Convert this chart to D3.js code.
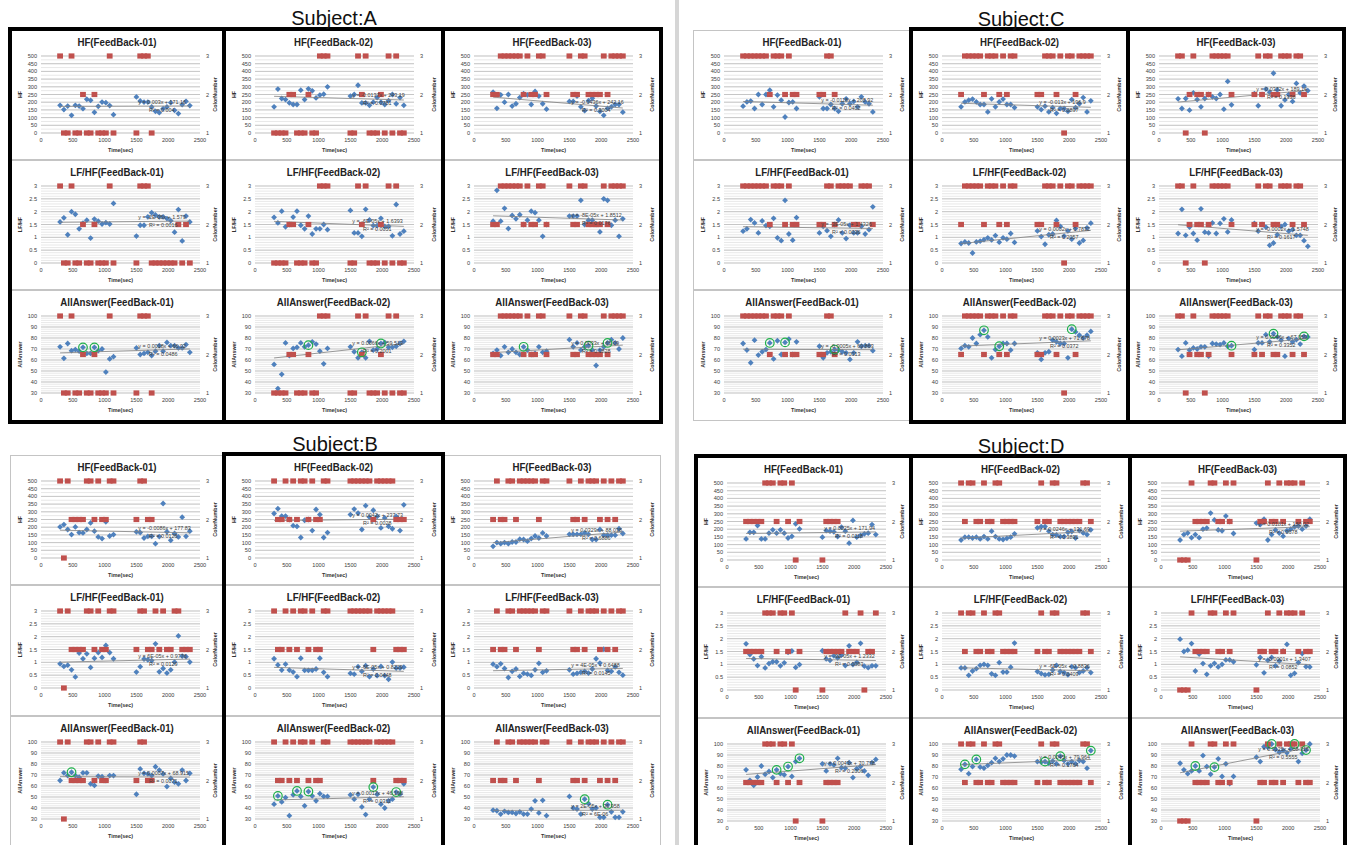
<!DOCTYPE html>
<html>
<head>
<meta charset="utf-8">
<script src="https://cdn.jsdelivr.net/npm/d3@7"></script>
<style>
  body { margin: 0; background: #fff; }
  svg { display: block; }
  text { font-family: "Liberation Sans", Arial, sans-serif; }
</style>
</head>
<body>
<svg id="chart" width="1348" height="845"></svg>
<script>
// ---- shared axes ----
const times = [300,360,420,480,540,600,660,720,780,840,900,960,1020,1080,1140,
  1500,1560,1620,1680,1740,1800,1860,1920,1980,2040,2100,2160,2220,2280,2340];
const xTicks = [0,500,1000,1500,2000,2500];
const hfTicks = [0,50,100,150,200,250,300,350,400,450,500];
const lfTicks = [0,0.5,1,1.5,2,2.5,3];
const aaTicks = [30,40,50,60,70,80,90,100];
const colorTicks = [1,2,3];
const _ = null;

// ---- Subject A ----
const hfA1 = [180,152,175,115,180,175,158,219,212,134,173,201,197,178,119, 234,208,201,201,169,141,132,158,169,197,147,126,184,206,178];
const hfA2 = [170,285,224,217,196,185,185,278,217,287,274,228,246,252,300, 240,250,310,195,195,180,200,230,200,185,210,250,190,230,180];
const hfA3 = [265,160,248,200,250,175,190,230,255,248,185,270,240,190,155, 205,205,240,170,145,210,225,175,140,115,160,170,185,185,135];
const lfA1 = [1.6,1.76,1.1,2.0,1.9,1.33,1.55,1.67,0.97,1.71,1.63,1.52,1.57,1.52,2.32, 1.05,1.47,1.47,1.8,1.96,1.87,1.8,1.8,1.73,1.65,1.2,2.08,0.86,1.83,1.6];
const lfA2 = [1.78,1.56,2.02,1.41,1.5,1.79,2.02,1.47,1.33,1.83,1.13,1.33,1.33,1.5,1.3, 2.05,1.17,1.17,1.04,2.09,1.68,1.46,1.46,1.74,1.43,1.43,1.06,2.28,1.13,1.24];
const lfA3 = [1.63,2.83,1.63,2.13,1.34,1.85,1.72,1.88,1.5,1.67,2.02,1.96,1.67,1.04,1.5, 1.83,1.83,1.83,2.44,1.5,1.67,1.67,1.5,1.21,2.5,2.44,1.47,1.67,1.04,1.72];
const aaA1 = [72,61.5,75,68.5,69.5,68,71.5,66,66,71.5,68.5,70,49,61,63, 71,65,66,67,64,68,73,68,76,73,73,71,71,74,67];
const aaA2 = [56,34,47,75.5,64,70.5,71.5,75.5,72,73.5,76.5,74.5,68,56.5,70.5, 72,67.5,62,67,62,77,69,70,75,76,71.5,71.5,72.5,75,77];
const aaA3 = [66,69,64,72,67,70,67,65,72,69,65,66,72,67,68, 78.5,72,75.5,69,72,73,69,55,69,72,75.5,78.5,75.5,70,80];
const colorA1 = [3,1,1,3,1,1,2,1,1,2,1,1,1,3,1, 1,3,3,3,1,_,_,_,_,_,_,_,_,_,_];
const colorA1lf = [3,1,1,3,1,1,2,1,1,2,1,1,1,3,1, 1,3,3,3,1,1,1,1,1,1,1,2,1,2,1];
const colorA2 = [1,1,1,1,2,2,1,1,1,2,1,1,3,3,3, 1,1,3,2,3,1,1,1,2,1,3,1,3,1,1];
const colorA3 = [2,2,3,3,3,3,3,3,2,3,2,2,3,3,2, 3,2,2,3,3,2,2,2,2,3,2,3,3,3,3];
const eqA = [
  ["y = 0.003x + 171.16","R² = 0.004"],["y = -0.0137x + 243.19","R² = 0.0781"],["y = -0.0436x + 242.16","R² = 0.3004"],
  ["y = -2E-05x + 1.579","R² = 0.0016"],["y = -6E-05x + 1.6393","R² = 0.0051"],["y = -8E-05x + 1.8512","R² = 0.0176"],
  ["y = 0.0018x + 66.02","R² = 0.0486"],["y = 0.0066x + 59.513","R² = 0.2001"],["y = 0.0033x + 65.09","R² = 0.1828"]];
const circlesA = [[6,9],[9,18,23],[8,20,25]];

// ---- Subject B ----
const hfB1 = [202,217,185,152,202,165,163,185,228,174,137,126,235,143,152, 170,165,130,141,141,93,139,354,170,115,159,137,265,141,174];
const hfB2 = [289,320,272,272,250,210,205,133,245,250,178,315,282,133,165, 282,318,292,185,340,265,310,270,195,260,205,190,270,178,345];
const hfB3 = [76,100,93,100,93,104,104,122,120,109,126,143,130,163,143, 154,154,154,154,163,154,120,120,185,148,148,148,148,190,159];
const lfB1 = [0.94,0.84,0.89,0.71,0.43,1.36,1.14,1.33,0.8,1.16,1.38,1.19,1.66,1.38,1.14, 0.62,0.83,1.13,1.1,1.07,1.72,0.63,0.76,0.58,0.71,1.01,2.03,1.24,1.22,1.01];
const lfB2 = [1.14,0.9,0.7,0.93,0.7,0.62,0.44,1.16,0.69,0.69,0.69,0.74,1.16,0.61,0.44, 0.57,0.54,0.83,0.65,0.87,0.44,0.74,0.48,0.84,0.48,0.34,1.01,0.78,0.78,0.81];
const lfB3 = [0.93,0.83,0.94,0.76,0.41,0.65,0.74,0.45,0.57,0.54,0.49,0.71,0.96,0.61,0.67, 0.71,0.54,0.57,0.61,0.65,0.58,0.74,1.14,0.97,1.51,0.69,0.65,0.82,0.61,0.5];
const aaB1 = [65,72,69.5,72.5,69.5,68,72,72,62,60.5,69,68.5,65,69.5,69.5, 52.5,75.5,71.5,71,69.5,77.5,74.5,71,59.5,67,63.5,62,74.5,65,71.5];
const aaB2 = [43.5,51,45.5,49.5,33,52,55.5,50.5,42,55,51,46.5,53,50.5,50.5, 52,48,52.5,41,34,48,59,52.5,43.5,40,46.5,48,54.5,52.5,62];
const aaB3 = [38,37.5,34.5,37,36,36,35,36.5,34.5,34.5,39,46.5,35.5,47,33, 50.5,40,39,34.5,48,44,39,40,31.5,31.5,43,36.5,31.5,31.5,36.5];
const colorB1 = [3,1,3,2,2,2,2,3,3,2,3,2,2,3,3, 2,3,3,2,2,_,_,_,_,_,_,_,_,_,_];
const colorB1lf = [3,1,3,2,2,2,2,3,3,2,3,2,2,3,3, 2,3,3,2,2,3,2,3,2,2,3,3,2,2,2];
const colorB2 = [3,2,2,3,2,3,2,3,3,2,3,2,2,3,3, 3,3,3,3,3,3,2,3,3,3,3,3,2,2,2];
const colorB3 = [2,3,2,2,3,3,2,3,3,3,3,3,2,3,3, 3,2,2,3,2,3,3,3,2,3,2,3,2,3,3];
const eqB = [
  ["y = -0.0086x + 177.83","R² = 0.0128"],["y = 0.0042x + 237.73","R² = 0.0028"],["y = 0.0329x + 88.038","R² = 0.6886"],
  ["y = 6E-05x + 0.9776","R² = 0.0129"],["y = -6E-05x + 0.8229","R² = 0.0448"],["y = 4E-05x + 0.6488","R² = 0.0145"],
  ["y = 0.0007x + 68.915","R² = 0.0071"],["y = 0.0017x + 46.168","R² = 0.0311"],["y = 2E-05x + 36.958","R² = 6E-06"]];
const circlesB = [[3],[1,6,9,21,27],[19,25]];

// ---- Subject C ----
const hfC1 = [174,202,207,159,250,185,250,278,170,246,213,104,198,202,159, 235,159,159,185,159,141,190,222,190,205,170,235,202,190,137];
const hfC2 = [170,202,213,220,202,185,185,137,222,170,202,220,185,185,165, 170,152,174,137,165,128,159,159,141,217,165,190,230,137,209];
const hfC3 = [222,159,224,148,261,217,170,224,250,235,224,250,155,335,183, 255,177,250,285,265,388,280,177,215,250,205,322,260,305,275];
const lfC1 = [1.24,1.33,1.69,1.56,1.17,1.64,1.46,1.43,1.74,0.98,0.87,2.44,1.13,0.89,1.77, 1.17,1.43,1.26,1.04,1.5,1.68,1.17,0.95,1.47,1.17,1.17,1.43,1.13,1.3,2.19];
const lfC2 = [0.76,0.82,0.78,0.39,0.82,0.85,0.91,0.98,0.9,1.07,0.81,0.98,0.93,1.15,0.8, 1.25,1.03,0.73,1.1,1.13,1.66,1.43,1.05,1.25,0.93,1.35,0.78,0.88,1.37,1.55];
const lfC3 = [1.15,2.09,1.08,1.4,1.15,0.89,2.11,1.2,1.17,1.56,1.15,1.54,1.72,1.21,1.68, 1.54,1.24,1.5,1.4,0.69,0.78,1.1,1.43,1.5,1.24,1.3,1.08,1.08,0.87,0.65];
const aaC1 = [75,69,57.5,78,64.5,67.5,69.5,75.5,61,77.5,65,76,79,65,76.5, 72.5,62,66.5,67.5,69.5,69,67.5,66.5,60.5,66.5,76.5,72.5,73,73,68.5];
const aaC2 = [70.5,73,72,80,75,83,87,81,62,69.5,72.5,75,75,69,75, 66.5,60.5,66.5,67.5,78,76.5,75,75,62,88,85.5,82.5,80,82.5,86];
const aaC3 = [69.5,63.5,75.5,69,71,70,72,72,63.5,75,74.5,74,75.5,72.5,73, 69.5,75.5,75.5,83,76.5,84,81,78,63.5,79.5,76.5,78.5,74.5,81.5,81];
const colorC1 = [3,3,3,3,3,3,3,2,3,3,3,2,3,2,2, 2,2,3,3,2,_,_,_,_,_,_,_,_,_,_];
const colorC1lf = [3,3,3,3,3,3,3,2,3,3,3,2,3,2,2, 2,2,3,3,2,3,3,3,3,2,2,3,3,3,2];
const colorC2 = [2,3,3,3,3,3,2,3,3,3,2,3,2,3,3, 2,2,3,3,3,2,3,1,3,3,2,3,3,3,3];
const colorC3 = [3,3,1,2,3,2,2,1,2,3,3,3,3,3,2, 2,3,2,3,3,2,2,3,3,3,2,3,3,2,_];
const eqC = [
  ["y = -0.0118x + 208.92","R² = 0.0402"],["y = -0.013x + 196.9","R² = 0.0897"],["y = 0.0372x + 189.14","R² = 0.1936"],
  ["y = -3E-05x + 1.4326","R² = 0.0036"],["y = 0.0002x + 0.7832","R² = 0.2057"],["y = -0.0002x + 1.5748","R² = 0.1617"],
  ["y = -0.0005x + 69.863","R² = 0.0013"],["y = 0.0023x + 71.878","R² = 0.0372"],["y = 0.0046x + 67.059","R² = 0.3352"]];
const circlesC = [[7,11,19],[6,10,24],[14,20,28]];

// ---- Subject D ----
const hfD1 = [137,180,180,224,137,137,174,196,174,196,174,143,154,235,202, 148,191,187,183,152,213,187,109,257,148,159,170,174,230,165];
const hfD2 = [130,148,148,143,148,137,152,137,187,152,137,133,141,148,170, 209,217,217,187,165,163,152,152,180,185,143,191,176,165,196];
const hfD3 = [130,165,175,145,165,145,200,207,305,260,195,190,285,250,172, 240,230,265,130,165,195,175,155,190,200,215,220,200,220,265];
const lfD1 = [1.8,1.38,1.21,0.95,1.3,0.86,1.03,1.1,1.1,0.94,1.06,1.47,1.52,0.88,0.99, 1.53,1.21,1.16,1.33,1.25,1.36,0.95,1.72,0.99,1.08,1.82,0.93,0.87,0.94,0.94];
const lfD2 = [0.86,0.86,0.57,0.74,0.83,0.96,1.0,0.96,0.63,0.57,1.07,0.7,0.7,0.89,1.83, 0.72,0.64,0.59,0.61,0.78,0.96,0.72,0.68,0.59,0.91,0.87,0.68,0.74,0.87,0.68];
const lfD3 = [1.98,1.5,1.55,1.81,0.74,1.4,1.03,0.61,0.94,1.04,0.9,1.0,1.17,1.17,1.1, 0.98,1.27,0.67,1.16,1.27,0.94,1.13,1.52,1.78,0.57,0.65,1.07,1.42,0.91,0.9];
const aaD1 = [76.5,67,62.5,70,80,72.5,75,69.5,76.5,73,72,79.5,70.5,84,87, 82,75.5,82,81,87,78.5,78,83,69.5,77.5,79.5,75.5,71.5,83,86];
const aaD2 = [77,81.5,73,79.5,86,79,78,80.5,83,87,84,86.5,90,90,89, 84,83.5,84,82.5,84.5,82,89,85,82,84,82,85,84,78,94];
const aaD3 = [82.5,76.5,73,75.5,80,75.5,89.5,79.5,72.5,79,86.5,70.5,82,64,70.5, 88,84,97.5,97,100,95,92.5,94,92,95.5,100,84,91.5,94.5,100];
const colorD1 = [2,2,2,2,2,3,3,3,2,3,3,2,3,1,2, 1,2,2,2,2,_,_,_,_,_,_,_,_,_,_];
const colorD1lf = [2,2,2,2,2,3,3,3,2,3,3,2,3,1,2, 1,2,2,2,2,2,3,2,2,2,3,1,2,2,3];
const colorD2 = [3,2,3,3,2,2,3,2,2,3,3,2,2,2,2, 2,3,2,2,3,3,2,2,2,2,2,2,3,3,2];
const colorD3 = [1,1,1,3,2,2,2,2,3,3,2,2,3,2,3, 1,2,2,3,2,2,3,2,3,3,3,2,3,2,2];
const eqD = [
  ["y = 0.0025x + 171.94","R² = 0.0118"],["y = 0.0246x + 131.69","R² = 0.3891"],["y = 0.0181x + 180.02","R² = 0.0678"],
  ["y = -3E-05x + 1.2332","R² = 0.0083"],["y = -6E-05x + 0.8836","R² = 0.0409"],["y = -0.0001x + 1.3407","R² = 0.0852"],
  ["y = 0.0043x + 70.778","R² = 0.2006"],["y = 0.0045x + 79.964","R² = 0.1764"],["y = 0.0125x + 68.316","R² = 0.5555"]];
const circlesD = [[8,11,14],[1,4,17,21,29],[4,9,19,25,28]];

// ---- layout ----
const kinds = [
  {name: "HF", domain: [0, 500], ticks: hfTicks, minor: 25},
  {name: "LF/HF", domain: [0, 3], ticks: lfTicks, minor: 0.1},
  {name: "AllAnswer", domain: [30, 100], ticks: aaTicks, minor: 2}
];

const subjects = [
  {title: "Subject:A", tx: 334, ty: 25, cols: [10, 224, 443, 661], rows: [30, 160, 290, 421], thick: [0, 1, 2],
   values: [[hfA1, hfA2, hfA3], [lfA1, lfA2, lfA3], [aaA1, aaA2, aaA3]],
   colors: [[colorA1, colorA2, colorA3], [colorA1lf, colorA2, colorA3], [colorA1, colorA2, colorA3]],
   eqs: eqA, circles: circlesA},
  {title: "Subject:B", tx: 335, ty: 451, cols: [10, 224, 443, 661], rows: [455, 585, 716, 847], thick: [1],
   values: [[hfB1, hfB2, hfB3], [lfB1, lfB2, lfB3], [aaB1, aaB2, aaB3]],
   colors: [[colorB1, colorB2, colorB3], [colorB1lf, colorB2, colorB3], [colorB1, colorB2, colorB3]],
   eqs: eqB, circles: circlesB},
  {title: "Subject:C", tx: 1021, ty: 26, cols: [693, 911, 1128, 1344], rows: [30, 160, 290, 421], thick: [1, 2],
   values: [[hfC1, hfC2, hfC3], [lfC1, lfC2, lfC3], [aaC1, aaC2, aaC3]],
   colors: [[colorC1, colorC2, colorC3], [colorC1lf, colorC2, colorC3], [colorC1, colorC2, colorC3]],
   eqs: eqC, circles: circlesC},
  {title: "Subject:D", tx: 1021, ty: 453, cols: [696, 911, 1130, 1345], rows: [457, 587, 718, 849], thick: [0, 1, 2],
   values: [[hfD1, hfD2, hfD3], [lfD1, lfD2, lfD3], [aaD1, aaD2, aaD3]],
   colors: [[colorD1, colorD2, colorD3], [colorD1lf, colorD2, colorD3], [colorD1, colorD2, colorD3]],
   eqs: eqD, circles: circlesD}
];

const svg = d3.select("#chart");
svg.append("rect").attr("width", 1348).attr("height", 845).attr("fill", "#fff");
// grey separator between left and right halves
svg.append("rect").attr("x", 675).attr("y", 0).attr("width", 4).attr("height", 845).attr("fill", "#d6d6d6");

const diamond = "M0,-2.9L2.9,0L0,2.9L-2.9,0Z";

function drawPanel(g, x0, y0, w, h, kind, title, values, colors, eq, circles) {
  const pl = x0 + 31, pr = pl + 159, pt = y0 + 26, pb = y0 + 103;
  const x = d3.scaleLinear().domain([0, 2500]).range([pl, pr]);
  const y = d3.scaleLinear().domain(kind.domain).range([pb, pt]);
  const yc = d3.scaleLinear().domain([1, 3]).range([pb, pt]);

  g.append("rect").attr("x", x0 + 0.5).attr("y", y0 + 0.5).attr("width", w - 1).attr("height", h - 1)
    .attr("fill", "#fff").attr("stroke", "#c4c4c4");

  // gridlines
  const minor = d3.range(kind.domain[0], kind.domain[1] + 1e-9, kind.minor);
  g.append("g").selectAll("line").data(minor).join("line")
    .attr("x1", pl).attr("x2", pr).attr("y1", d => y(d)).attr("y2", d => y(d))
    .attr("stroke", "#d9d9d9").attr("stroke-width", 0.6);
  g.append("g").selectAll("line").data(kind.ticks).join("line")
    .attr("x1", pl).attr("x2", pr).attr("y1", d => y(d)).attr("y2", d => y(d))
    .attr("stroke", "#b8b8b8").attr("stroke-width", 0.7);

  // axis labels
  const small = g.append("g").attr("font-size", 5.6).attr("fill", "#404040");
  small.selectAll(".yl").data(kind.ticks).join("text").attr("class", "yl")
    .attr("x", pl - 4).attr("y", d => y(d) + 2).attr("text-anchor", "end").text(d => d);
  small.selectAll(".xl").data(xTicks).join("text").attr("class", "xl")
    .attr("x", d => x(d)).attr("y", pb + 9).attr("text-anchor", "middle").text(d => d);
  small.selectAll(".cl").data(colorTicks).join("text").attr("class", "cl")
    .attr("x", pr + 6).attr("y", d => yc(d) + 2).text(d => d);

  const bold = g.append("g").attr("font-size", 5.4).attr("font-weight", "bold").attr("fill", "#333");
  bold.append("text").attr("x", (pl + pr) / 2).attr("y", pb + 19).attr("text-anchor", "middle").text("Time(sec)");
  bold.append("text").attr("transform", `translate(${x0 + 12},${(pt + pb) / 2}) rotate(-90)`)
    .attr("text-anchor", "middle").text(kind.name);
  bold.append("text").attr("transform", `translate(${x0 + w - 7},${(pt + pb) / 2}) rotate(-90)`)
    .attr("text-anchor", "middle").text("ColorNumber");

  // blue series
  const pts = times.map((t, i) => ({t, v: values[i], i})).filter(d => d.v != null);
  g.append("g").selectAll("path").data(pts).join("path")
    .attr("d", diamond).attr("transform", d => `translate(${x(d.t)},${y(d.v)})`).attr("fill", "#4f81bd");

  // linear trend line
  const mx = d3.mean(pts, d => d.t), my = d3.mean(pts, d => d.v);
  const slope = d3.sum(pts, d => (d.t - mx) * (d.v - my)) / d3.sum(pts, d => (d.t - mx) ** 2);
  const icpt = my - slope * mx;
  const t0 = d3.min(pts, d => d.t), t1 = d3.max(pts, d => d.t);
  g.append("line").attr("x1", x(t0)).attr("x2", x(t1))
    .attr("y1", y(icpt + slope * t0)).attr("y2", y(icpt + slope * t1))
    .attr("stroke", "#808080").attr("stroke-width", 0.8);

  // red ColorNumber markers (secondary axis); neighbours overlap into bars
  const reds = times.map((t, i) => ({t, c: colors[i]})).filter(d => d.c != null);
  g.append("g").selectAll("rect").data(reds).join("rect")
    .attr("x", d => x(d.t) - 2.9).attr("y", d => yc(d.c) - 2.6).attr("width", 5.8).attr("height", 5.2)
    .attr("fill", "#c0504d");

  // highlighted points
  if (circles) {
    g.append("g").selectAll("circle").data(circles).join("circle")
      .attr("cx", i => x(times[i])).attr("cy", i => y(values[i])).attr("r", 4.3)
      .attr("fill", "none").attr("stroke", "#1fb04a").attr("stroke-width", 1.2);
  }

  // trend equation
  const ty = y(icpt + slope * 1900);
  const eg = g.append("g").attr("font-size", 5.4).attr("fill", "#404040");
  eg.append("text").attr("x", x(1530)).attr("y", ty - 2).text(eq[0]);
  eg.append("text").attr("x", x(1700)).attr("y", ty + 6).text(eq[1]);

  // panel title (slightly condensed, like the original chart font)
  g.append("text").attr("transform", `translate(${x0 + w / 2},${y0 + 16}) scale(0.88,1)`)
    .attr("text-anchor", "middle")
    .attr("font-size", 11).attr("font-weight", "bold").attr("fill", "#222")
    .text(title);
}

subjects.forEach(s => {
  const sg = svg.append("g");
  for (let r = 0; r < 3; r++) {
    for (let c = 0; c < 3; c++) {
      const kind = kinds[r];
      drawPanel(sg, s.cols[c], s.rows[r], s.cols[c + 1] - s.cols[c], s.rows[r + 1] - s.rows[r],
        kind, `${kind.name}(FeedBack-0${c + 1})`, s.values[r][c], s.colors[r][c], s.eqs[r * 3 + c],
        r === 2 ? s.circles[c] : null);
    }
  }
  s.thick.forEach(c => {
    sg.append("rect").attr("x", s.cols[c]).attr("y", s.rows[0] - 1)
      .attr("width", s.cols[c + 1] - s.cols[c]).attr("height", s.rows[3] - s.rows[0] + 2)
      .attr("fill", "none").attr("stroke", "#000").attr("stroke-width", 4);
  });
  sg.append("text").attr("x", s.tx).attr("y", s.ty).attr("text-anchor", "middle")
    .attr("font-size", 20).attr("fill", "#111").text(s.title);
});
</script>
</body>
</html>
